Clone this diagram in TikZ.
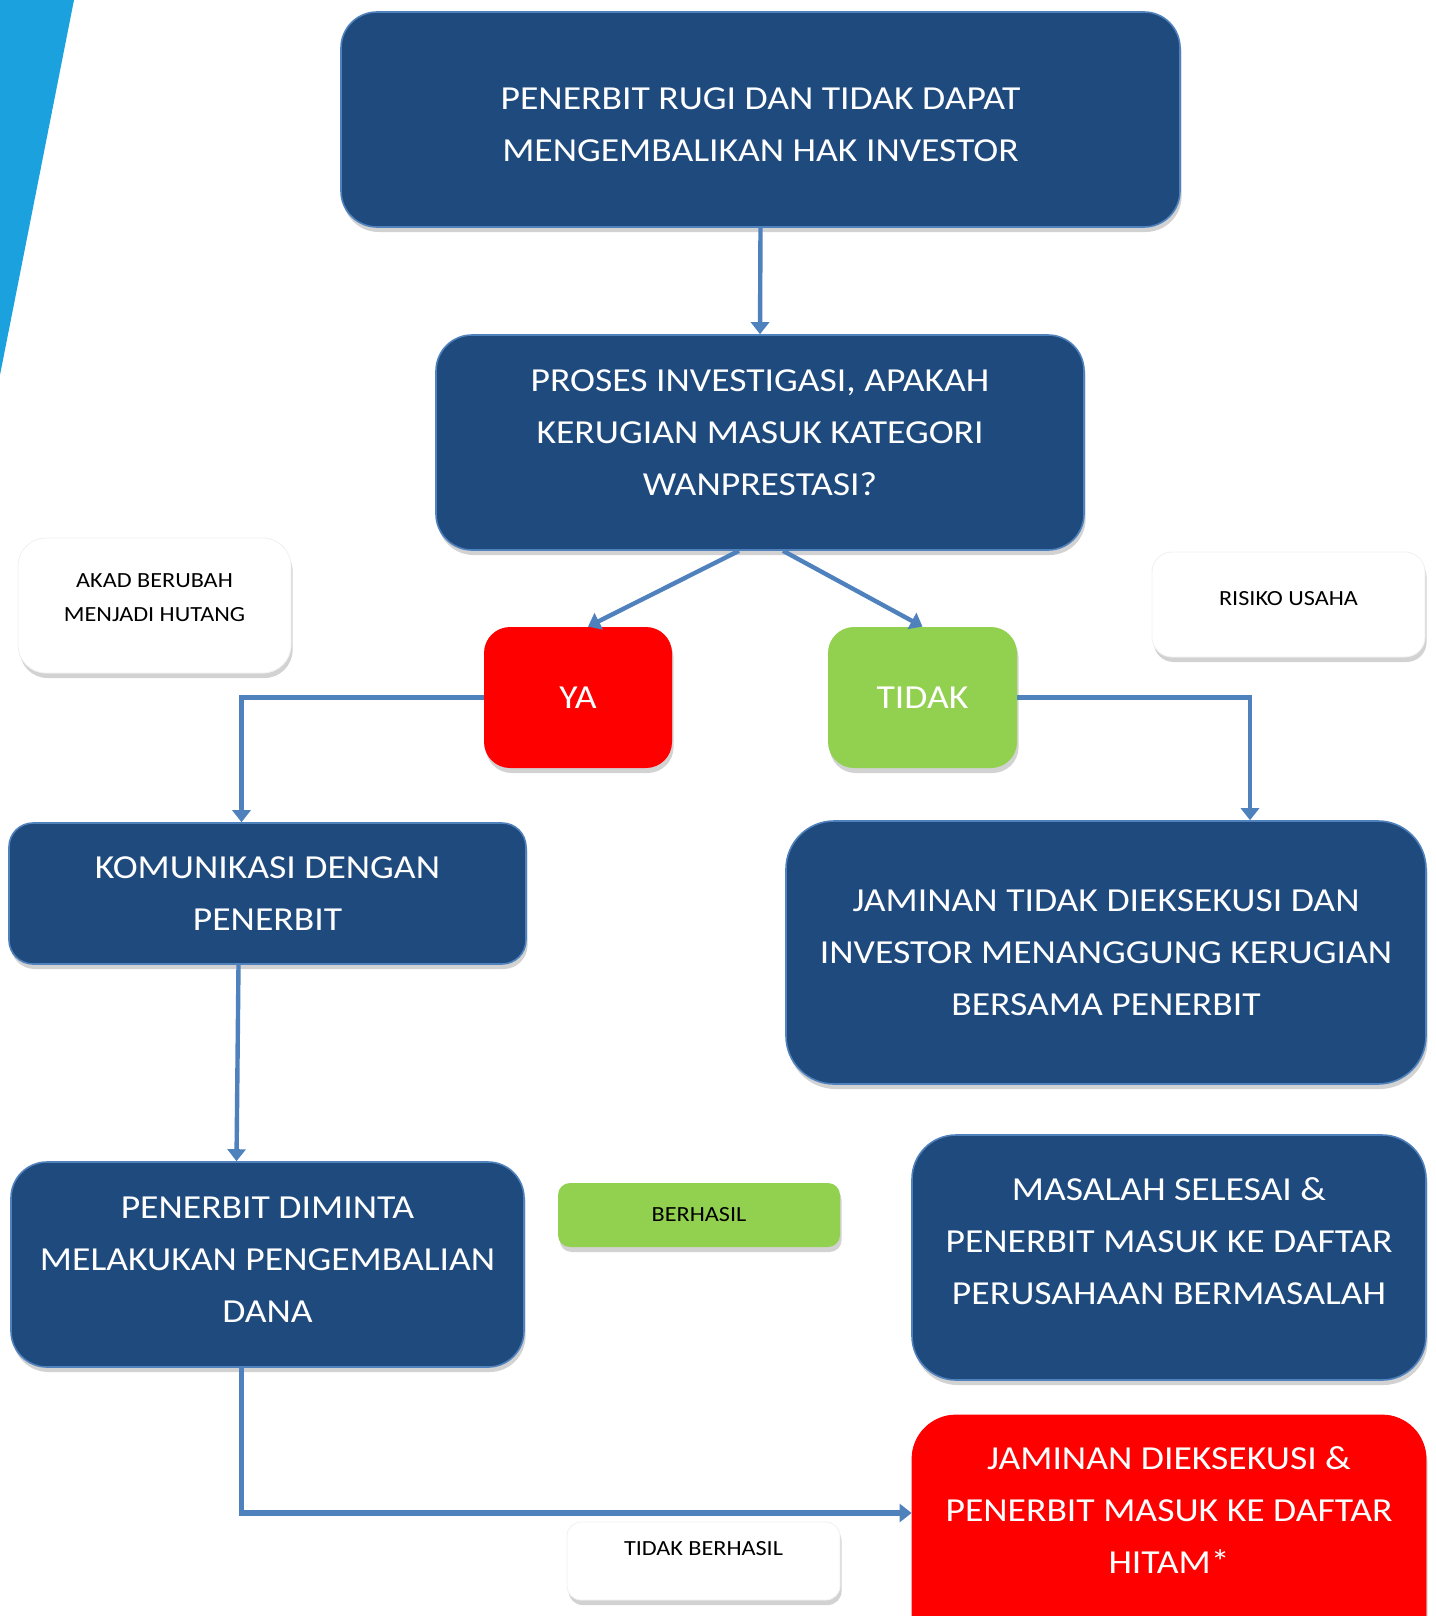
\documentclass[tikz,border=0pt]{standalone}
\usepackage{fontspec}
\setmainfont{Carlito}[FakeStretch=1.12]
\usepackage{tikz}
\usetikzlibrary{arrows.meta,shadows}

\definecolor{boxblue}{HTML}{1F4A7D}
\definecolor{edgeblue}{HTML}{4F81BD}
\definecolor{bandblue}{HTML}{1CA1DF}
\definecolor{okgreen}{HTML}{92D050}

\newcommand{\bigtxt}{\fontsize{16.8pt}{26pt}\selectfont}
\newcommand{\smalltxt}{\fontsize{10.8pt}{16.7pt}\selectfont}

\begin{document}
\begin{tikzpicture}[x=0.5pt,y=-0.5pt,
    shade/.style={drop shadow={shadow xshift=0.8pt,shadow yshift=-2.5pt,opacity=.25,fill=black!70}},
    bluebox/.style={shade,fill=boxblue,draw=edgeblue,line width=0.8pt,text=white,align=center,font=\bigtxt},
    redbox/.style={shade,fill=red,text=white,align=center,font=\bigtxt},
    greenbox/.style={shade,fill=okgreen,text=white,align=center,font=\bigtxt},
    notebox/.style={shade,fill=white,draw=black!6,text=black,align=center,font=\smalltxt},
    link/.style={draw=edgeblue,line width=2.2pt,-{Triangle[length=6pt,width=9pt]}}]
  \useasboundingbox (0,0) rectangle (1435,1616);
  \clip (0,0) rectangle (1435,1616);
  % band at the left edge
  \fill[bandblue] (0,0) -- (74,0) -- (0,375) -- cycle;

  \node[bluebox,minimum width=419.5pt,minimum height=107.5pt,rounded corners=18pt,text height=42pt] (rugi) at (760.5,119.5)
    {PENERBIT RUGI DAN TIDAK DAPAT\\MENGEMBALIKAN HAK INVESTOR};
  \node[bluebox,minimum width=324pt,minimum height=107.5pt,rounded corners=18pt,text depth=10pt] (proses) at (760,442.5)
    {PROSES INVESTIGASI, APAKAH\\KERUGIAN MASUK KATEGORI\\WANPRESTASI?};
  \node[notebox,minimum width=136.5pt,minimum height=67.5pt,rounded corners=14pt,text depth=8pt] (akad) at (154.5,605.5)
    {AKAD BERUBAH\\MENJADI HUTANG};
  \node[notebox,minimum width=136.5pt,minimum height=52.5pt,rounded corners=10pt,text depth=6pt] (risiko) at (1288.5,604.5)
    {RISIKO USAHA};
  \node[redbox,minimum width=94pt,minimum height=70.5pt,rounded corners=13pt] (ya) at (578,697.5) {YA};
  \node[greenbox,minimum width=94.5pt,minimum height=70.5pt,rounded corners=13pt] (tidak) at (922.5,697.5) {TIDAK};
  \node[bluebox,minimum width=258.5pt,minimum height=70.5pt,rounded corners=12pt] (komunikasi) at (267.5,893.5)
    {KOMUNIKASI DENGAN\\PENERBIT};
  \node[bluebox,minimum width=320pt,minimum height=131.5pt,rounded corners=24pt] (jamtidak) at (1106,952.5)
    {JAMINAN TIDAK DIEKSEKUSI DAN\\INVESTOR MENANGGUNG KERUGIAN\\BERSAMA PENERBIT};
  \node[bluebox,minimum width=256.5pt,minimum height=102.5pt,rounded corners=18pt,text depth=5pt] (diminta) at (267.5,1264.5)
    {PENERBIT DIMINTA\\MELAKUKAN PENGEMBALIAN\\DANA};
  \node[greenbox,font=\smalltxt,text=black,minimum width=141pt,minimum height=32pt,rounded corners=6pt] (berhasil) at (699,1215)
    {BERHASIL};
  \node[bluebox,minimum width=257pt,minimum height=122.5pt,rounded corners=22pt,text depth=16pt] (masalah) at (1169,1257.5)
    {MASALAH SELESAI \&\\PENERBIT MASUK KE DAFTAR\\PERUSAHAAN BERMASALAH};
  \node[redbox,draw=red,minimum width=257pt,minimum height=125pt,rounded corners=22pt,text depth=29.5pt] (eksekusi) at (1169,1540)
    {JAMINAN DIEKSEKUSI \&\\PENERBIT MASUK KE DAFTAR\\HITAM*};
  \node[notebox,minimum width=136.5pt,minimum height=39pt,rounded corners=7pt,text depth=13pt] (gagal) at (703.5,1561)
    {TIDAK BERHASIL};

  \draw[link] (rugi.south) -- (proses.north);
  \draw[link] ([xshift=-10.5pt]proses.south) -- ([xshift=5pt]ya.north);
  \draw[link] ([xshift=11.5pt]proses.south) -- (tidak.north);
  \draw[link] (ya.west) -| ([xshift=-13pt]komunikasi.north);
  \draw[link] (tidak.east) -| ([xshift=72pt]jamtidak.north);
  \draw[link] ([xshift=-14.5pt]komunikasi.south) -- ([xshift=-15.5pt]diminta.north);
  \draw[link,line width=2.6pt] ([xshift=-13pt]diminta.south) |- ([yshift=13.5pt]eksekusi.west);
\end{tikzpicture}
\end{document}
